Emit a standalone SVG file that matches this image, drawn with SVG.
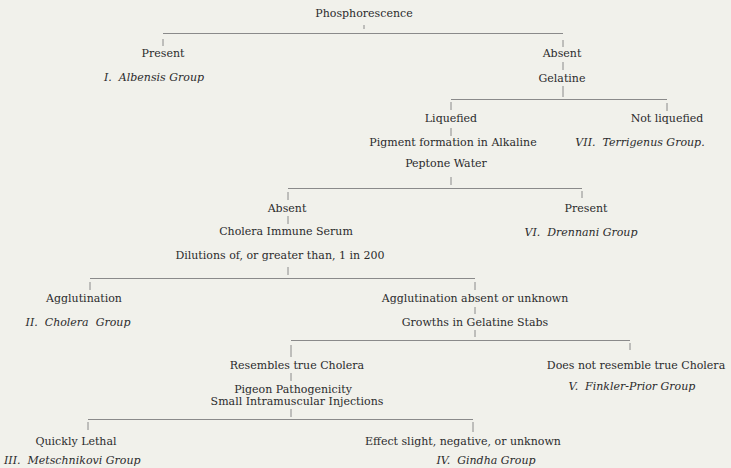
<svg xmlns="http://www.w3.org/2000/svg" width="731" height="468" viewBox="0 0 731 468">
<style>
text{font-family:"DejaVu Serif","Liberation Serif",serif;font-size:11px;fill:#2b2b2b;text-anchor:middle}
.it{font-style:italic}
.st{text-anchor:start}
.c line{stroke:#8a8a8a;stroke-width:1}
</style>
<rect width="731" height="468" fill="#f1f1eb"/>
<g class="c" id="connectors">
<line x1="364" y1="25" x2="364" y2="29"/>
<line x1="163" y1="33.5" x2="563" y2="33.5"/>
<line x1="163" y1="39" x2="163" y2="46"/>
<line x1="563" y1="40" x2="563" y2="47"/>
<line x1="563" y1="62" x2="563" y2="70"/>
<line x1="563" y1="86" x2="563" y2="97"/>
<line x1="451" y1="99.5" x2="667" y2="99.5"/>
<line x1="451" y1="102" x2="451" y2="110"/>
<line x1="667" y1="103" x2="667" y2="111"/>
<line x1="451" y1="128" x2="451" y2="136"/>
<line x1="451" y1="177" x2="451" y2="185"/>
<line x1="288" y1="188.5" x2="582" y2="188.5"/>
<line x1="288" y1="192" x2="288" y2="200"/>
<line x1="582" y1="191" x2="582" y2="198"/>
<line x1="288" y1="216" x2="288" y2="224"/>
<line x1="288" y1="267" x2="288" y2="275"/>
<line x1="90" y1="278.5" x2="475" y2="278.5"/>
<line x1="90" y1="282" x2="90" y2="290"/>
<line x1="475" y1="282" x2="475" y2="290"/>
<line x1="475" y1="307" x2="475" y2="314"/>
<line x1="475" y1="330" x2="475" y2="337"/>
<line x1="291" y1="340.5" x2="630" y2="340.5"/>
<line x1="291" y1="345" x2="291" y2="357"/>
<line x1="630" y1="343" x2="630" y2="350"/>
<line x1="291" y1="373" x2="291" y2="381"/>
<line x1="291" y1="409" x2="291" y2="417"/>
<line x1="88" y1="419.5" x2="473" y2="419.5"/>
<line x1="88" y1="422" x2="88" y2="430"/>
<line x1="473" y1="422" x2="473" y2="432"/>
</g>
<g id="phosphorescence"><text x="364" y="17">Phosphorescence</text></g>
<g id="present1"><text x="163" y="57">Present</text></g>
<g id="albensis"><text class="it" x="154" y="81">I.&#160; Albensis Group</text></g>
<g id="absent1"><text x="562" y="57">Absent</text></g>
<g id="gelatine"><text x="562" y="82">Gelatine</text></g>
<g id="liquefied"><text x="451" y="122">Liquefied</text></g>
<g id="not-liquefied"><text x="667" y="122">Not liquefied</text></g>
<g id="pigment"><text x="453" y="146">Pigment formation in Alkaline</text><text x="446" y="167">Peptone Water</text></g>
<g id="terrigenus"><text class="it" x="640" y="146">VII.&#160; Terrigenus Group.</text></g>
<g id="absent2"><text x="287" y="212">Absent</text></g>
<g id="present2"><text x="586" y="212">Present</text></g>
<g id="drennani"><text class="it" x="581" y="236">VI.&#160; Drennani Group</text></g>
<g id="serum"><text x="286" y="235">Cholera Immune Serum</text><text x="280" y="259">Dilutions of, or greater than, 1 in 200</text></g>
<g id="agglutination"><text x="84" y="302">Agglutination</text></g>
<g id="cholera-group"><text class="it" x="78" y="326">II.&#160; Cholera&#160; Group</text></g>
<g id="agglutination-absent"><text x="475" y="302">Agglutination absent or unknown</text></g>
<g id="growths"><text x="475" y="326">Growths in Gelatine Stabs</text></g>
<g id="resembles"><text x="297" y="369">Resembles true Cholera</text></g>
<g id="not-resemble"><text x="636" y="369">Does not resemble true Cholera</text></g>
<g id="finkler"><text class="it" x="632" y="390">V.&#160; Finkler-Prior Group</text></g>
<g id="pigeon"><text x="293" y="393">Pigeon Pathogenicity</text><text x="297" y="405">Small Intramuscular Injections</text></g>
<g id="lethal"><text x="76" y="445">Quickly Lethal</text></g>
<g id="metschnikovi"><text class="it st" x="4" y="464">III.&#160; Metschnikovi Group</text></g>
<g id="effect"><text x="463" y="445">Effect slight, negative, or unknown</text></g>
<g id="gindha"><text class="it" x="486" y="464">IV.&#160; Gindha Group</text></g>
</svg>
